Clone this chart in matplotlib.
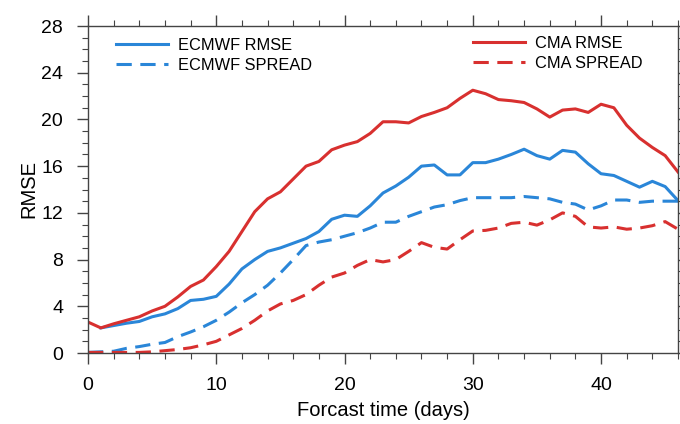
import matplotlib
matplotlib.use("Agg")
import matplotlib.pyplot as plt
from matplotlib.ticker import MultipleLocator
import numpy as np

plt.rcParams["font.family"] = ["Liberation Sans", "DejaVu Sans"]

# --- data ---
days = np.arange(0, 47)
ecmwf_days = np.arange(1, 47)

cma_rmse = [2.65, 2.15, 2.5, 2.8, 3.1, 3.6, 4.0, 4.8, 5.7, 6.25,
            7.4, 8.7, 10.4, 12.1, 13.2, 13.8, 14.9, 16.0, 16.4, 17.4,
            17.8, 18.1, 18.8, 19.8, 19.8, 19.7, 20.25, 20.6, 21.0, 21.8,
            22.5, 22.2, 21.7, 21.6, 21.45, 20.9, 20.2, 20.8, 20.9, 20.6,
            21.3, 21.0, 19.5, 18.4, 17.6, 16.9, 15.5]

ecmwf_rmse = [2.15, 2.35, 2.55, 2.7, 3.1, 3.35, 3.8, 4.5, 4.6,
              4.85, 5.9, 7.2, 8.0, 8.7, 9.0, 9.4, 9.8, 10.4, 11.45,
              11.8, 11.7, 12.6, 13.7, 14.3, 15.05, 16.0, 16.1, 15.25, 15.25,
              16.3, 16.3, 16.6, 17.0, 17.45, 16.9, 16.6, 17.35, 17.2, 16.2,
              15.35, 15.2, 14.7, 14.2, 14.7, 14.25, 13.05]

ecmwf_spread = [0.05, 0.1, 0.15, 0.4, 0.55, 0.75, 0.9, 1.4, 1.8, 2.25,
                2.8, 3.5, 4.3, 5.0, 5.8, 6.85, 8.0, 9.2, 9.5, 9.7,
                10.0, 10.3, 10.7, 11.2, 11.2, 11.7, 12.1, 12.5, 12.7, 13.05,
                13.3, 13.3, 13.3, 13.3, 13.4, 13.3, 13.2, 12.9, 12.75, 12.25,
                12.6, 13.1, 13.1, 12.9, 13.0, 13.0, 13.0]

cma_spread = [0.05, 0.05, 0.05, 0.05, 0.05, 0.1, 0.2, 0.3, 0.45, 0.7,
              1.0, 1.55, 2.1, 2.8, 3.6, 4.2, 4.5, 5.0, 5.8, 6.5,
              6.85, 7.5, 8.0, 7.8, 8.0, 8.7, 9.45, 9.05, 8.9, 9.7,
              10.45, 10.5, 10.7, 11.1, 11.2, 10.95, 11.4, 12.0, 11.7, 10.8,
              10.7, 10.8, 10.6, 10.7, 10.9, 11.25, 10.6]

blue = "#2a86d8"
red = "#d8302f"
axis_col = "#444444"
lw = 2.2
dash = (5.0, 2.8)

fig = plt.figure(figsize=(6.8, 4.24), dpi=100, facecolor="white")
ax = fig.add_axes([88 / 680, 71 / 424, 590 / 680, 327 / 424])

l_er, = ax.plot(ecmwf_days, ecmwf_rmse, color=blue, lw=lw, label="ECMWF RMSE")
l_es, = ax.plot(days, ecmwf_spread, color=blue, lw=lw, dashes=dash, label="ECMWF SPREAD")
l_cr, = ax.plot(days, cma_rmse, color=red, lw=lw, label="CMA RMSE")
l_cs, = ax.plot(days, cma_spread, color=red, lw=lw, dashes=dash, label="CMA SPREAD")

ax.set_xlim(0, 46)
ax.set_ylim(0, 28)
ax.xaxis.set_major_locator(MultipleLocator(10))
ax.xaxis.set_minor_locator(MultipleLocator(2))
ax.yaxis.set_major_locator(MultipleLocator(4))
ax.yaxis.set_minor_locator(MultipleLocator(1))

ax.tick_params(which="both", direction="out", top=True, right=True,
               color=axis_col, labelsize=14, labelcolor="black")
ax.tick_params(which="major", length=8, width=1.0)
ax.tick_params(which="minor", length=4, width=0.8)
ax.tick_params(axis="y", which="major", pad=10)
ax.tick_params(axis="x", which="major", pad=9)
for s in ax.spines.values():
    s.set_color(axis_col)
    s.set_linewidth(1.0)

ax.set_xlabel("Forcast time (days)", fontsize=14.5, labelpad=5)
ax.set_ylabel("RMSE", fontsize=14.5, labelpad=2)

leg_kw = dict(frameon=False, fontsize=11.8, handlelength=3.2, handletextpad=0.6,
              labelspacing=0.3, borderpad=0, borderaxespad=0, loc="upper left")
leg1 = ax.legend(handles=[l_er, l_es], bbox_to_anchor=(0.047, 0.963), **leg_kw)
ax.add_artist(leg1)
ax.legend(handles=[l_cr, l_cs], bbox_to_anchor=(0.6525, 0.969), **leg_kw)

fig.savefig("out.png", dpi=100, facecolor="white")
